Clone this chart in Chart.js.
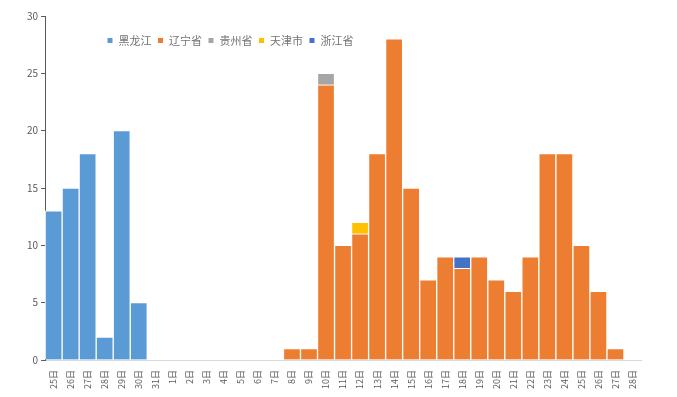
<!DOCTYPE html>
<html>
<head>
<meta charset="utf-8">
<script src="https://cdn.jsdelivr.net/npm/chart.js@4/dist/chart.umd.min.js"></script>
<style>
  html, body { margin: 0; padding: 0; background: #fff; }
  #wrap { width: 677px; height: 397px; }
</style>
</head>
<body>
<div id="wrap"><canvas id="cases"></canvas></div>
<script>
const labels = ['25日','26日','27日','28日','29日','30日','31日',
    '1日','2日','3日','4日','5日','6日','7日','8日','9日','10日',
    '11日','12日','13日','14日','15日','16日','17日','18日','19日','20日',
    '21日','22日','23日','24日','25日','26日','27日','28日'];

const heilongjiang = [13,15,18,2,20,5,0, 0,0,0,0,0,0,0,0,0,0, 0,0,0,0,0,0,0,0,0,0, 0,0,0,0,0,0,0,0];
const liaoning     = [0,0,0,0,0,0,0, 0,0,0,0,0,0,0,1,1,24, 10,11,18,28,15,7,9,8,9,7, 6,9,18,18,10,6,1,0];
const guizhou      = [0,0,0,0,0,0,0, 0,0,0,0,0,0,0,0,0,1, 0,0,0,0,0,0,0,0,0,0, 0,0,0,0,0,0,0,0];
const tianjin      = [0,0,0,0,0,0,0, 0,0,0,0,0,0,0,0,0,0, 0,1,0,0,0,0,0,0,0,0, 0,0,0,0,0,0,0,0];
const zhejiang     = [0,0,0,0,0,0,0, 0,0,0,0,0,0,0,0,0,0, 0,0,0,0,0,0,0,1,0,0, 0,0,0,0,0,0,0,0];

const yTicks = [0, 5, 10, 15, 20, 25, 30];

const font = "'Noto Sans CJK SC', 'Noto Sans', sans-serif";

function series(label, values, color) {
    return {
        label: label,
        data: values,
        backgroundColor: color,
        borderColor: '#ffffff',
        borderWidth: 1,
        barPercentage: 1,
        categoryPercentage: 1
    };
}

// legend sits inside the plot, so it takes no room and is moved after layout
const legendInside = {
    id: 'legendInside',
    beforeLayout(chart) {
        const lg = chart.legend;
        if (lg && !lg._inside) {
            const fit = lg.fit;
            lg.fit = function () {
                fit.call(this);
                this._realHeight = this.height;
                this.height = 0;
            };
            lg._inside = true;
        }
    },
    afterLayout(chart) {
        const lg = chart.legend;
        if (!lg) return;
        lg.left += 77;
        lg.right += 77;
        lg.top = 29;
        lg.height = lg._realHeight || 24;
        lg.bottom = lg.top + lg.height;
    }
};

new Chart(document.getElementById('cases'), {
    type: 'bar',
    data: {
        labels: labels,
        datasets: [
            series('黑龙江', heilongjiang, '#5b9bd5'),
            series('辽宁省', liaoning, '#ed7d31'),
            series('贵州省', guizhou, '#a5a5a5'),
            series('天津市', tianjin, '#ffc000'),
            series('浙江省', zhejiang, '#4472c4')
        ]
    },
    options: {
        responsive: true,
        maintainAspectRatio: false,
        animation: false,
        layout: { padding: { top: 16, right: 36, left: 24, bottom: 6 } },
        plugins: {
            tooltip: { enabled: false },
            legend: {
                position: 'top',
                align: 'start',
                labels: {
                    boxWidth: 6,
                    boxHeight: 6,
                    padding: 6,
                    color: '#737373',
                    font: { family: font, size: 11 }
                }
            }
        },
        scales: {
            x: {
                stacked: true,
                grid: { display: false },
                border: { color: '#d9d9d9' },
                ticks: {
                    autoSkip: false,
                    minRotation: 90,
                    maxRotation: 90,
                    padding: 2,
                    color: '#595959',
                    font: { family: font, size: 9 }
                }
            },
            y: {
                stacked: true,
                min: 0,
                max: 30,
                afterBuildTicks(axis) {
                    axis.ticks = yTicks.map(v => ({ value: v }));
                },
                grid: { drawOnChartArea: false, drawTicks: true, tickLength: 4, color: '#595959' },
                border: { color: '#595959' },
                ticks: {
                    padding: 3,
                    color: '#595959',
                    font: { family: font, size: 10 }
                }
            }
        }
    },
    plugins: [legendInside]
});
</script>
</body>
</html>
